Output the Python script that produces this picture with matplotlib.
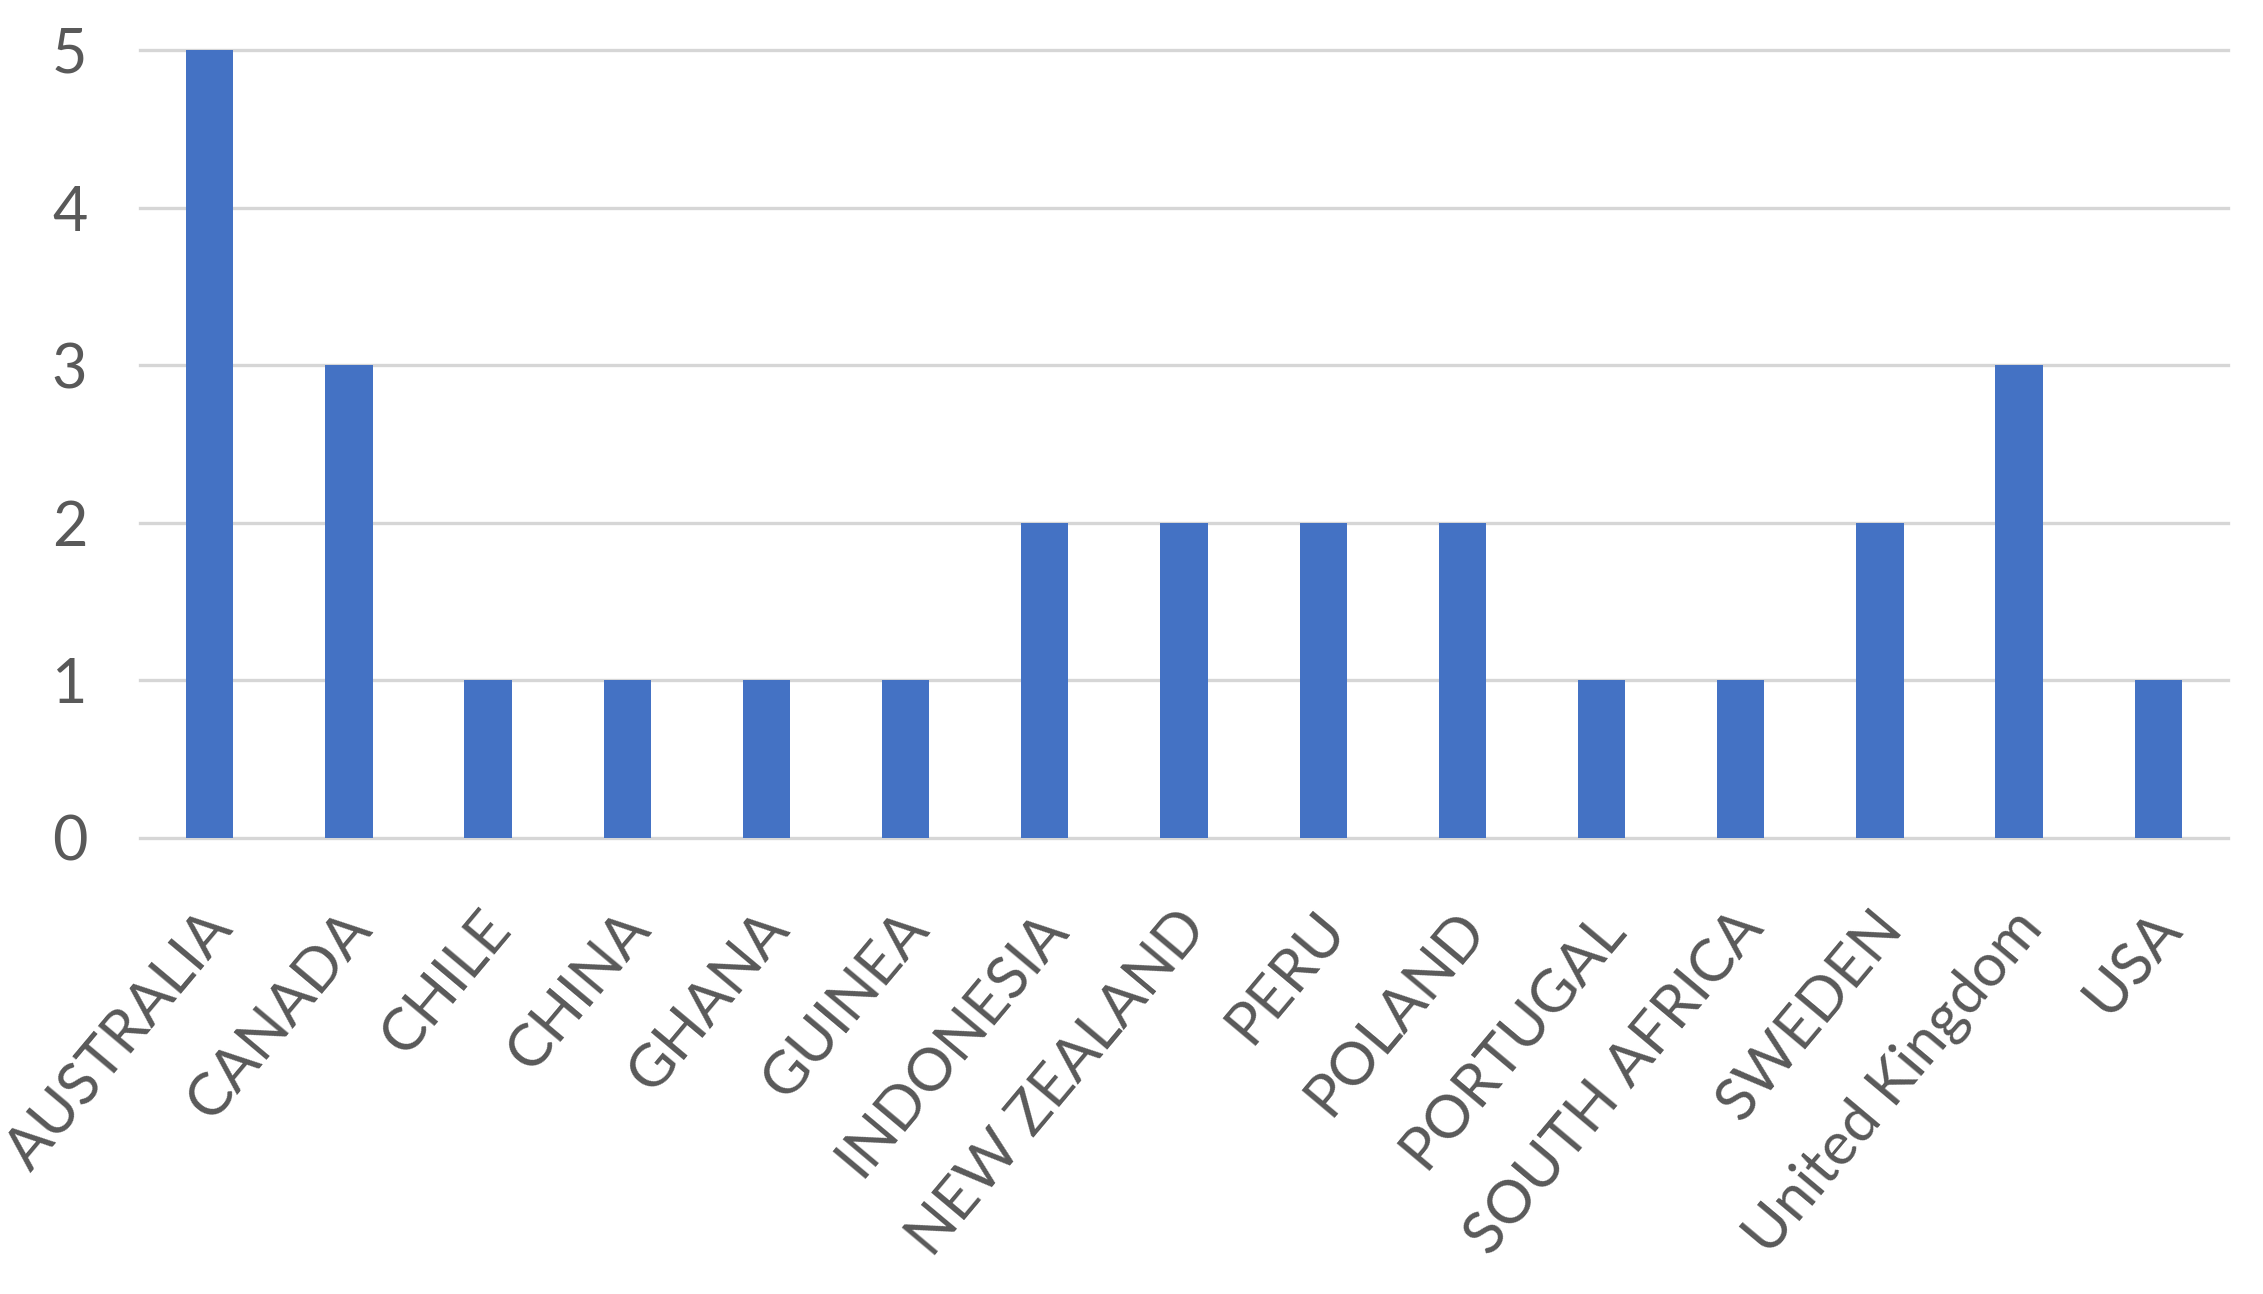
import matplotlib
matplotlib.use('Agg')
import matplotlib.pyplot as plt
import matplotlib.transforms as mtransforms

countries = ['AUSTRALIA', 'CANADA', 'CHILE', 'CHINA', 'GHANA', 'GUINEA', 'INDONESIA',
             'NEW ZEALAND', 'PERU', 'POLAND', 'PORTUGAL', 'SOUTH AFRICA', 'SWEDEN',
             'United Kingdom', 'USA']
counts = [5, 3, 1, 1, 1, 1, 2, 2, 2, 2, 1, 1, 2, 3, 1]
yticks = [0, 1, 2, 3, 4, 5]

plt.rcParams['font.family'] = ['Lato', 'DejaVu Sans']

fig = plt.figure(figsize=(22.63, 12.94), dpi=100)
ax = fig.add_axes([0.0619, 0.3524, 0.9226, 0.609])

x = range(len(countries))
ax.bar(x, counts, width=0.34, color='#4472C4', zorder=3)

# gridlines (drawn by hand so the top one is not clipped)
for v in yticks:
    ax.axhline(v, color='#d6d6d6', linewidth=2.4, zorder=1, clip_on=False)

ax.set_xlim(-0.5, len(countries) - 0.5)
ax.set_ylim(0, 5)
ax.set_yticks(yticks)
ax.set_xticks(list(x))
ax.set_xticklabels(countries, rotation=50, ha='right', va='center',
                   rotation_mode='anchor', fontsize=43, color='#595959')
ax.tick_params(axis='x', length=0, pad=58)
ax.tick_params(axis='y', length=0, pad=38, labelsize=44, labelcolor='#595959')

# nudge the slanted labels a little to the right, like the original
shift = mtransforms.ScaledTranslation(12 / 100, 0, fig.dpi_scale_trans)
for lab in ax.get_xticklabels():
    lab.set_transform(lab.get_transform() + shift)

for s in ax.spines.values():
    s.set_visible(False)

fig.savefig('out.png', dpi=100, facecolor='white')
